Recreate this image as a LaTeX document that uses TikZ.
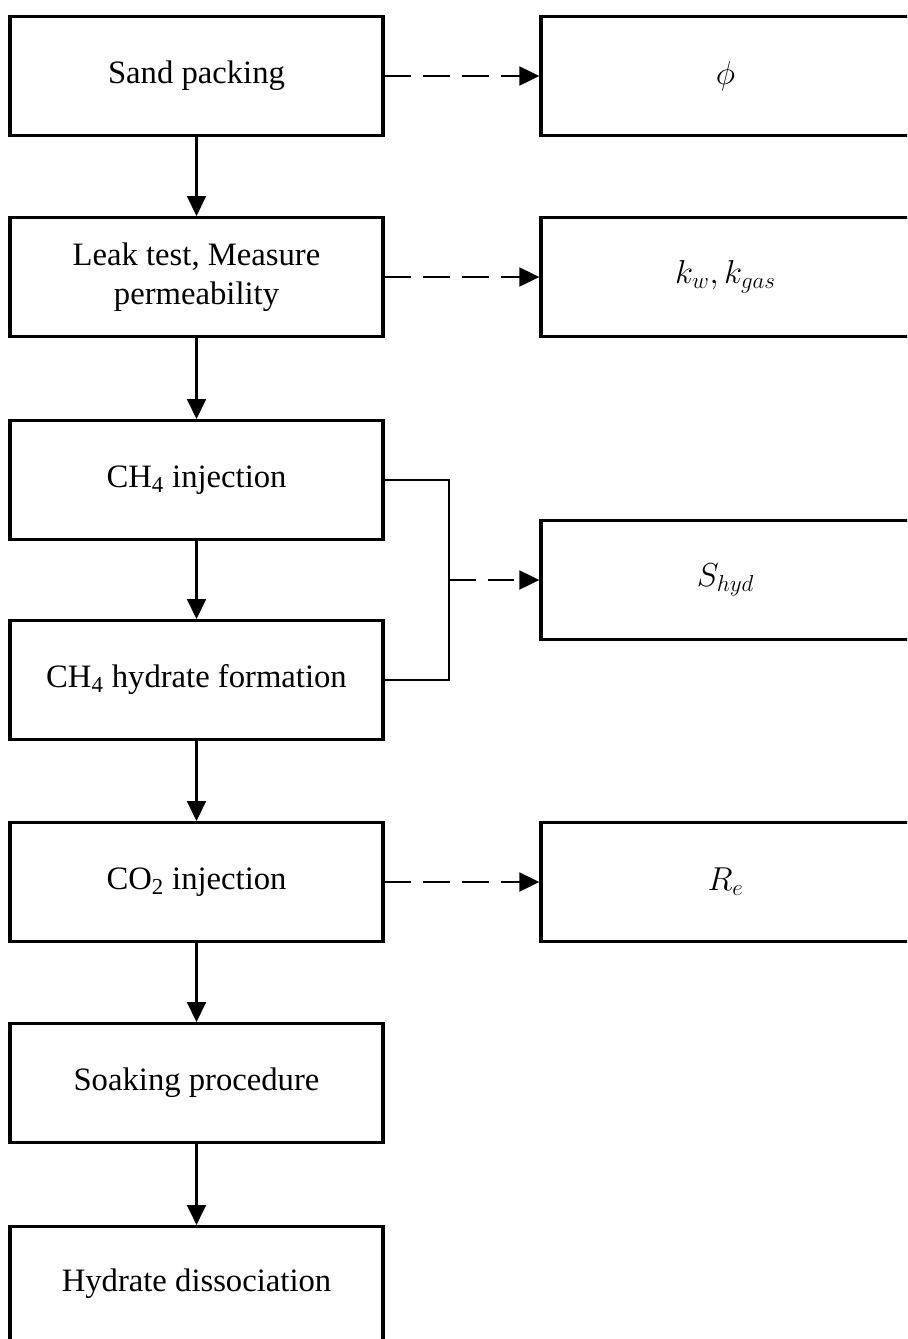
\documentclass[tikz,border=0pt]{standalone}
\usepackage{fontspec}
\setmainfont{Liberation Serif}
\usetikzlibrary{arrows.meta}
\begin{document}
\begin{tikzpicture}[x=0.75pt,y=-0.75pt,
  stepbox/.style={draw=black,line width=2.4pt,fill=white,minimum width=279.75pt,minimum height=89pt,inner sep=0pt,align=center,font=\fontsize{24.5}{29}\selectfont},
  resbox/.style={draw=black,line width=2.4pt,fill=white,minimum width=276.75pt,minimum height=89pt,inner sep=0pt,align=center,font=\fontsize{26}{30}\selectfont},
  flow/.style={line width=2.2pt,-{Triangle[length=15pt,width=14pt]}},
  dflow/.style={line width=2.2pt,dash pattern=on 20pt off 9pt,-{Triangle[length=15pt,width=14pt]}},
  brk/.style={line width=2.2pt}]
\clip (0,0) rectangle (907,1339);
\fill[white] (0,0) rectangle (907,1339);
\node[stepbox] (s1) at (196.5,76) {Sand packing};
\node[stepbox] (s2) at (196.5,277) {Leak test, Measure\\permeability};
\node[stepbox] (s3) at (196.5,480) {CH\textsubscript{4} injection};
\node[stepbox] (s4) at (196.5,680) {CH\textsubscript{4} hydrate formation};
\node[stepbox] (s5) at (196.5,882) {CO\textsubscript{2} injection};
\node[stepbox] (s6) at (196.5,1083) {Soaking procedure};
\node[stepbox,minimum height=120pt,anchor=north] (s7) at (196.5,1225) {};
\node[font=\fontsize{24.5}{29}\selectfont] (t7) at (196.5,1284) {Hydrate dissociation};
\node[resbox] (r1) at (725.5,76) {$\phi$};
\node[resbox] (r2) at (725.5,277) {$k_w, k_{gas}$};
\node[resbox] (r3) at (725.5,580) {$S_{hyd}$};
\node[resbox] (r4) at (725.5,882) {$R_e$};
\foreach \a/\b in {s1/s2,s2/s3,s3/s4,s4/s5,s5/s6,s6/s7}
  \draw[flow] (\a.south) -- (\b.north);
\draw[dflow] (s1.east) -- (r1.west);
\draw[dflow] (s2.east) -- (r2.west);
\draw[dflow] (s5.east) -- (r4.west);
\coordinate (j) at (449,580);
\draw[brk] (s3.east) -| (j) |- (s4.east);
\draw[dflow] (j) -- (r3.west);
\end{tikzpicture}
\end{document}
